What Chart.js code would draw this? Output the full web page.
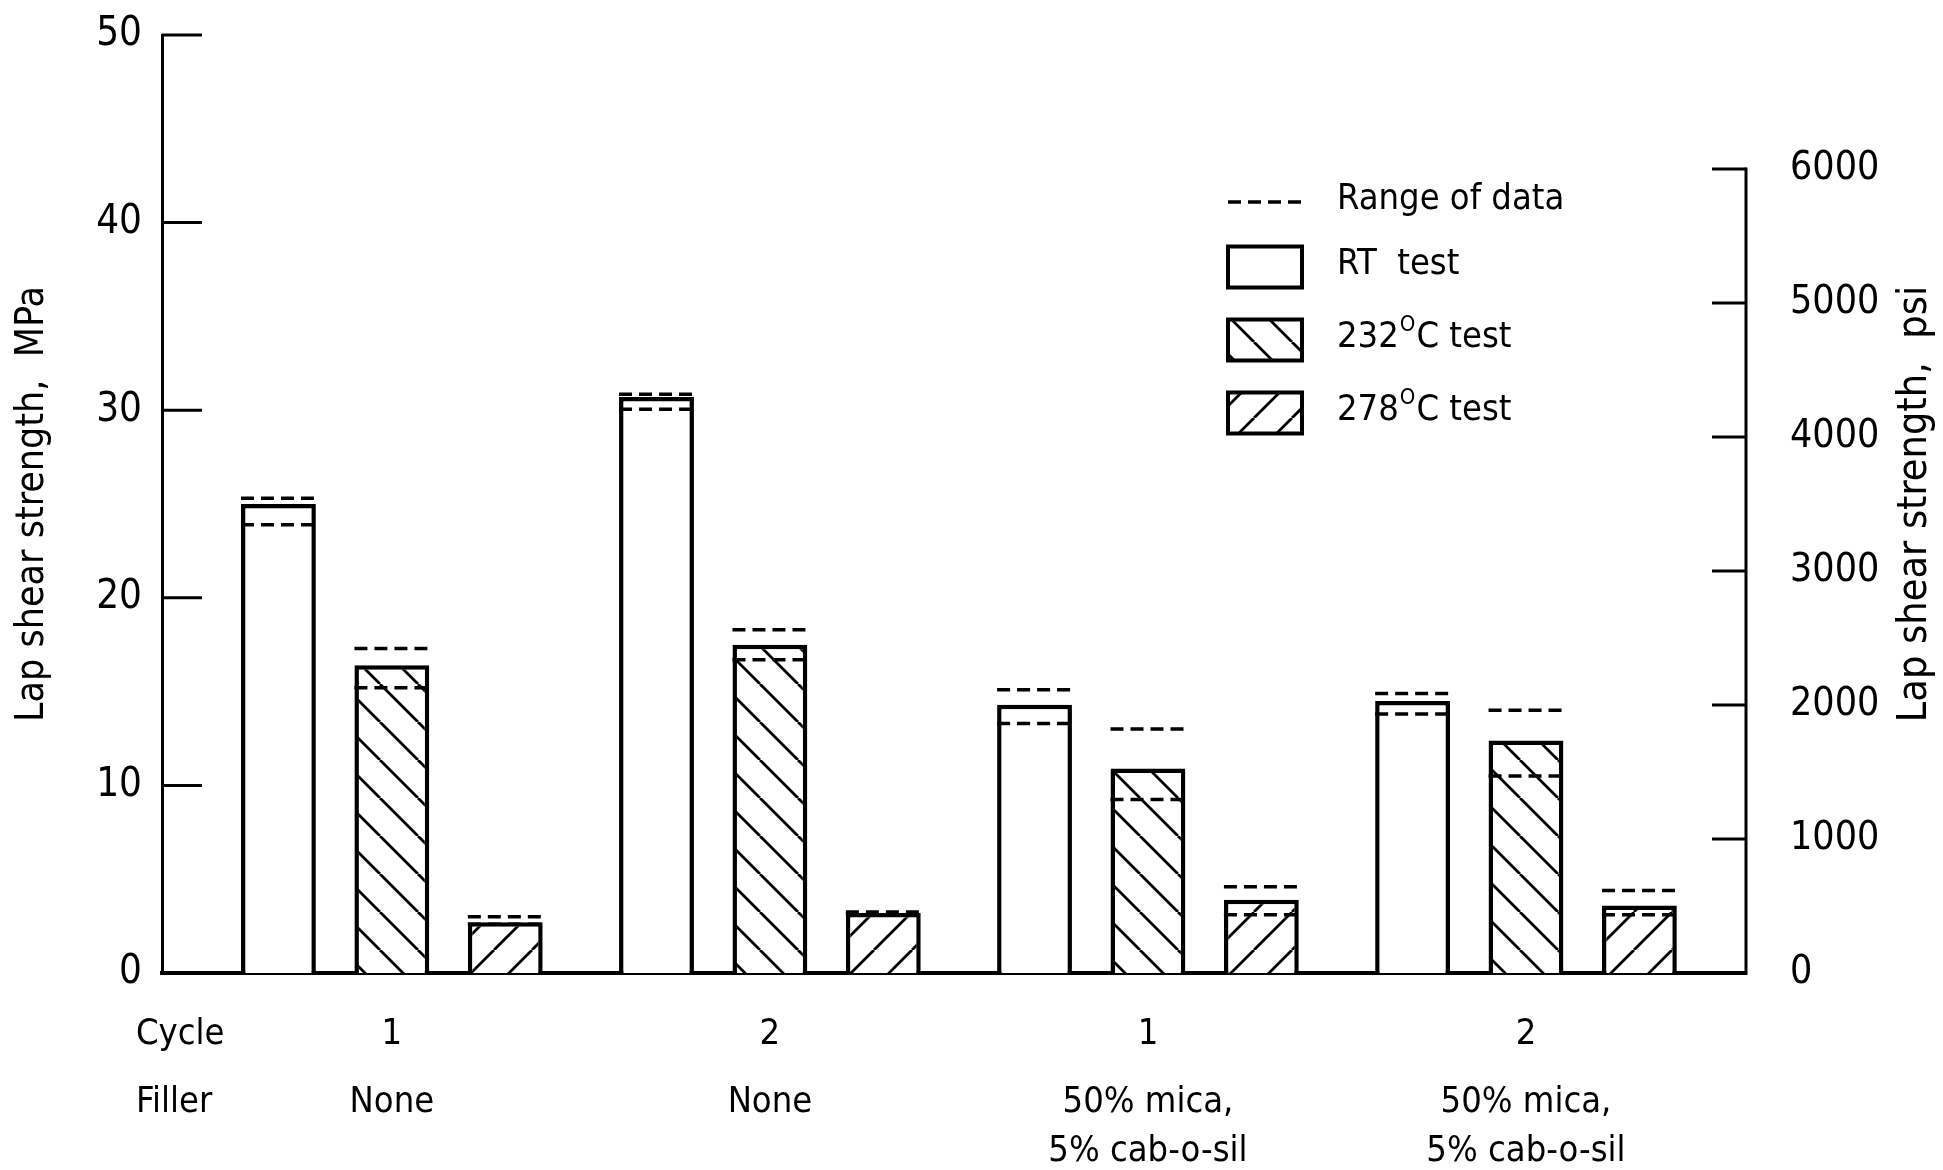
<!DOCTYPE html>
<html>
<head>
<meta charset="utf-8">
<title>Lap shear strength</title>
<script src="https://cdn.jsdelivr.net/npm/chart.js@4.4.1/dist/chart.umd.min.js"></script>
<style>
  html, body { margin: 0; padding: 0; background: #fff; }
  canvas { display: block; }
</style>
</head>
<body>
<canvas id="myChart" width="1943" height="1170"></canvas>
<script>
// groups along the bottom
let cycles = ['1', '2', '1', '2'];
let fillers = [['None'], ['None'], ['50% mica,', '5% cab-o-sil'], ['50% mica,', '5% cab-o-sil']];

// lap shear strength, MPa
let rtTest = [25.0, 30.7, 14.3, 14.5];
let rtLow = [23.9, 30.05, 13.3, 13.8];
let rtHigh = [25.3, 30.85, 15.1, 14.9];

let test232 = [16.4, 17.5, 10.9, 12.4];
let low232 = [15.2, 16.7, 9.25, 10.5];
let high232 = [17.3, 18.3, 13.0, 14.0];

let test278 = [2.7, 3.2, 3.9, 3.6];
let low278 = [2.6, 3.15, 3.1, 3.1];
let high278 = [3.0, 3.25, 4.6, 4.4];

let mpaTicks = [0, 10, 20, 30, 40, 50];
let psiTicks = [0, 1000, 2000, 3000, 4000, 5000, 6000];

let font = "'DejaVu Sans Condensed', 'DejaVu Sans', sans-serif";

function hatch(direction) {
    let size = 38;
    let c = document.createElement('canvas');
    c.width = size;
    c.height = size;
    let g = c.getContext('2d');
    g.fillStyle = '#fff';
    g.fillRect(0, 0, size, size);
    g.strokeStyle = '#000';
    g.lineWidth = 2.8;
    g.beginPath();
    for (let k = -size; k <= size; k += size) {
        if (direction === 'down') {
            g.moveTo(k, 0);
            g.lineTo(k + size, size);
        } else {
            g.moveTo(k, size);
            g.lineTo(k + size, 0);
        }
    }
    g.stroke();
    return g.createPattern(c, 'repeat');
}

let hatch232 = hatch('down');
let hatch278 = hatch('up');

function points(values) {
    return values.map((v, i) => ({ x: i + 1, y: v }));
}

function line(ctx, x1, y1, x2, y2) {
    ctx.beginPath();
    ctx.moveTo(x1, y1);
    ctx.lineTo(x2, y2);
    ctx.stroke();
}

// label like 232^OC test
function degreeLabel(ctx, x, y, temp, size) {
    ctx.font = size + 'px ' + font;
    ctx.fillText(temp, x, y);
    x += ctx.measureText(temp).width;
    ctx.font = Math.round(size * 0.62) + 'px ' + font;
    ctx.fillText('O', x + 1, y - size * 0.36);
    x += ctx.measureText('O').width + 2;
    ctx.font = size + 'px ' + font;
    ctx.fillText('C test', x, y);
}

// keep the axis labels from pushing the plot area down
function fixVertical(width) {
    return s => {
        s.width = width;
        s.paddingTop = 0;
        s.paddingBottom = 0;
    };
}

let extras = {
    id: 'extras',
    afterDatasetsDraw(chart) {
        let ctx = chart.ctx;
        let yScale = chart.scales.y;
        let ranges = [[rtLow, rtHigh], [low232, high232], [low278, high278]];
        ctx.save();
        ctx.strokeStyle = '#000';
        ctx.lineWidth = 3.5;
        ctx.setLineDash([13, 7]);
        for (let d = 0; d < ranges.length; d++) {
            let bars = chart.getDatasetMeta(d).data;
            for (let i = 0; i < bars.length; i++) {
                let x1 = bars[i].x - bars[i].width / 2;
                let x2 = bars[i].x + bars[i].width / 2;
                line(ctx, x1, yScale.getPixelForValue(ranges[d][0][i]), x2, yScale.getPixelForValue(ranges[d][0][i]));
                line(ctx, x1, yScale.getPixelForValue(ranges[d][1][i]), x2, yScale.getPixelForValue(ranges[d][1][i]));
            }
        }
        ctx.restore();
    },
    afterDraw(chart) {
        let ctx = chart.ctx;
        let area = chart.chartArea;
        let yScale = chart.scales.y;
        let psiScale = chart.scales.y2;
        let xScale = chart.scales.x;

        ctx.save();
        ctx.strokeStyle = '#000';
        ctx.fillStyle = '#000';

        // inward tick marks
        ctx.lineWidth = 3;
        for (let i = 1; i < mpaTicks.length; i++) {
            let py = yScale.getPixelForValue(mpaTicks[i]);
            line(ctx, area.left, py, area.left + 40, py);
        }
        for (let i = 1; i < psiTicks.length; i++) {
            let py = psiScale.getPixelForValue(psiTicks[i]);
            line(ctx, area.right - 34, py, area.right, py);
        }
        // right axis line stops at the last psi tick
        line(ctx, area.right, psiScale.getPixelForValue(0) + 2, area.right, psiScale.getPixelForValue(psiTicks[psiTicks.length - 1]) - 1.5);

        // right axis title, read bottom to top
        ctx.save();
        ctx.translate(1915, (area.top + area.bottom) / 2);
        ctx.rotate(-Math.PI / 2);
        ctx.font = '41px ' + font;
        ctx.textAlign = 'center';
        ctx.textBaseline = 'middle';
        ctx.fillText('Lap shear strength,  psi', 0, 0);
        ctx.restore();

        // rows under the axis
        ctx.font = '36px ' + font;
        ctx.textBaseline = 'middle';
        ctx.textAlign = 'left';
        ctx.fillText('Cycle', 136, 1035);
        ctx.fillText('Filler', 136, 1103);
        ctx.textAlign = 'center';
        for (let i = 0; i < cycles.length; i++) {
            let px = xScale.getPixelForValue(i + 1);
            ctx.fillText(cycles[i], px, 1035);
            ctx.fillText(fillers[i][0], px, 1103);
            if (fillers[i].length > 1) {
                ctx.fillText(fillers[i][1], px, 1152);
            }
        }

        // legend
        let lx = 1228;
        let boxW = 74;
        let boxH = 41;
        let tx = 1337;
        ctx.textAlign = 'left';
        ctx.lineWidth = 3.5;
        ctx.setLineDash([13, 7]);
        line(ctx, lx, 202, lx + boxW, 202);
        ctx.setLineDash([]);
        ctx.font = '36px ' + font;
        ctx.fillText('Range of data', tx, 200);

        let boxes = [['#fff', 267], [hatch232, 340], [hatch278, 413]];
        ctx.lineWidth = 4;
        for (let i = 0; i < boxes.length; i++) {
            let cy = boxes[i][1];
            ctx.fillStyle = boxes[i][0];
            ctx.fillRect(lx, cy - boxH / 2, boxW, boxH);
            ctx.strokeRect(lx, cy - boxH / 2, boxW, boxH);
        }
        ctx.fillStyle = '#000';
        ctx.font = '36px ' + font;
        ctx.fillText('RT  test', tx, 265);
        degreeLabel(ctx, tx, 338, '232', 36);
        degreeLabel(ctx, tx, 411, '278', 36);

        ctx.restore();
    }
};

let ctx = document.getElementById('myChart').getContext('2d');

new Chart(ctx, {
    type: 'bar',
    data: {
        datasets: [{
            label: 'RT test',
            data: points(rtTest),
            backgroundColor: '#fff',
            borderColor: '#000',
            borderWidth: 4.5,
            borderSkipped: 'start'
        }, {
            label: '232 test',
            data: points(test232),
            backgroundColor: hatch232,
            borderColor: '#000',
            borderWidth: 4.5,
            borderSkipped: 'start'
        }, {
            label: '278 test',
            data: points(test278),
            backgroundColor: hatch278,
            borderColor: '#000',
            borderWidth: 4.5,
            borderSkipped: 'start'
        }]
    },
    options: {
        responsive: false,
        animation: false,
        categoryPercentage: 0.9,
        barPercentage: 0.66,
        layout: { padding: { top: 35, right: 0, bottom: 0, left: 0 } },
        plugins: {
            legend: { display: false },
            tooltip: { enabled: false }
        },
        scales: {
            x: {
                type: 'linear',
                offset: false,
                min: 0.392,
                max: 4.582,
                z: 1,
                grid: { display: false },
                border: { display: true, color: '#000', width: 4 },
                ticks: { display: false },
                afterBuildTicks: s => { s.ticks = cycles.map((c, i) => ({ value: i + 1 })); },
                afterFit: s => { s.height = 197; }
            },
            y: {
                position: 'left',
                min: 0,
                max: 50,
                grid: { display: false },
                border: { display: true, color: '#000', width: 3 },
                afterBuildTicks: s => { s.ticks = mpaTicks.map(v => ({ value: v })); },
                afterFit: fixVertical(162),
                ticks: {
                    padding: 12,
                    color: '#000',
                    font: { family: font, size: 40 },
                    callback: v => String(v)
                },
                title: {
                    display: true,
                    text: 'Lap shear strength,  MPa',
                    color: '#000',
                    padding: { top: 9, bottom: 0 },
                    font: { family: font, size: 39 }
                }
            },
            y2: {
                position: 'right',
                min: 0,
                max: 7000,
                grid: { display: false },
                border: { display: false },
                afterBuildTicks: s => { s.ticks = psiTicks.map(v => ({ value: v })); },
                afterFit: fixVertical(197),
                ticks: {
                    padding: 36,
                    color: '#000',
                    font: { family: font, size: 39 },
                    callback: v => String(v)
                }
            }
        }
    },
    plugins: [extras]
});
</script>
</body>
</html>
